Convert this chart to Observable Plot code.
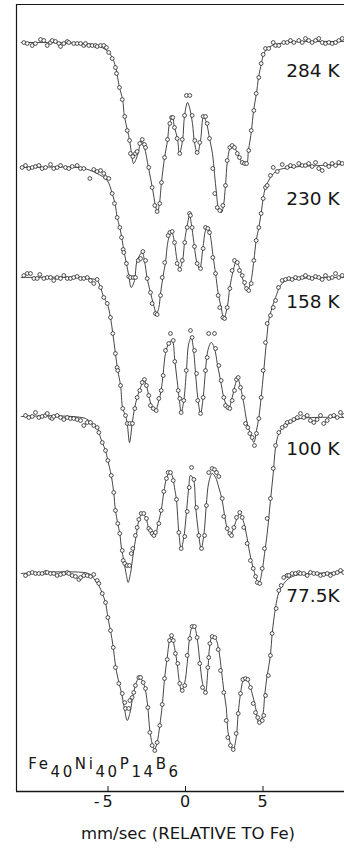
<!DOCTYPE html>
<html><head><meta charset="utf-8">
<script src="https://cdn.jsdelivr.net/npm/d3@7"></script>
<script src="https://cdn.jsdelivr.net/npm/@observablehq/plot@0.6"></script>
<style>
html,body{margin:0;padding:0;background:#fff;}
#chart svg{display:block;}
</style>
</head><body><div id="chart"></div>
<script>
// ---- data (velocity mm/s, absorption depth below each spectrum's baseline, arbitrary units) ----
const temperatures = ["284 K", "230 K", "158 K", "100 K", "77.5K"];
const baselines = [749, 626, 514, 374, 219];
const tickValues = [-5, 0, 5];
const axisLabel = "mm/sec (RELATIVE TO Fe)";
const formulaParts = [["Fe", false], ["40", true], ["Ni", false], ["40", true], ["P", false], ["14", true], ["B", false], ["6", true]];

const curve284 = [[-10.6,0],[-6.5,1],[-5.7,3],[-5.0,9],[-4.7,16],[-4.5,25],[-4.26,45],[-4.06,57],[-3.94,74],[-3.74,88],[-3.61,98],[-3.48,111],[-3.35,121],[-3.10,113],[-2.84,98],[-2.65,105],[-2.39,125],[-2.13,146],[-1.94,163],[-1.81,170],[-1.68,161],[-1.55,140],[-1.35,115],[-1.16,98],[-1.03,81],[-0.84,75],[-0.71,85],[-0.52,96],[-0.39,111],[-0.19,98],[-0.06,73],[0.13,60],[0.26,65],[0.45,81],[0.58,100],[0.77,111],[0.97,98],[1.16,74],[1.35,80],[1.55,96],[1.74,111],[1.87,131],[2.0,151],[2.13,166],[2.32,170],[2.45,163],[2.58,143],[2.71,118],[2.90,105],[3.10,103],[3.35,111],[3.68,120],[3.94,121],[4.06,108],[4.26,88],[4.39,68],[4.58,51],[4.71,35],[4.90,21],[5.03,12],[5.29,6],[5.61,3],[6.5,0],[10.26,-1]];
const points284 = [[-10.43,0],[-10.21,1],[-9.89,3],[-9.68,1],[-9.35,-3],[-9.14,-2],[-8.92,3],[-8.71,0],[-8.60,-2],[-8.39,-1],[-8.17,1],[-8.06,4],[-7.85,1],[-7.63,-1],[-7.53,0],[-7.21,1],[-6.99,1],[-6.77,1],[-6.56,3],[-6.45,1],[-6.24,3],[-6.02,3],[-5.81,3],[-5.70,4],[-5.48,3],[-5.27,3],[-5.10,5],[-4.95,10],[-4.73,16],[-4.52,25],[-4.45,31],[-4.26,45],[-4.08,57],[-3.92,74],[-3.76,88],[-3.61,98],[-3.55,111],[-3.40,114],[-3.23,111],[-3.12,109],[-2.95,101],[-2.79,97],[-2.65,102],[-2.58,105],[-2.37,125],[-2.15,145],[-1.98,163],[-1.83,169],[-1.66,161],[-1.55,140],[-1.35,115],[-1.16,97],[-1.01,81],[-0.90,75],[-0.82,75],[-0.71,85],[-0.54,96],[-0.37,111],[-0.21,97],[-0.06,73],[0.06,53],[0.28,53],[0.43,73],[0.60,98],[0.75,110],[0.92,100],[1.14,74],[1.29,74],[1.40,81],[1.55,96],[1.76,126],[1.89,151],[2.05,165],[2.21,168],[2.41,163],[2.58,143],[2.69,118],[2.86,105],[3.01,103],[3.16,105],[3.34,111],[3.48,115],[3.66,120],[3.81,121],[3.94,121],[4.08,108],[4.24,88],[4.41,68],[4.56,51],[4.73,35],[4.88,21],[5.01,12],[5.16,6],[5.37,6],[5.66,0],[5.81,3],[6.02,3],[6.34,0],[6.56,0],[6.77,-2],[6.99,0],[7.31,-2],[7.53,0],[7.74,-4],[7.95,-2],[8.17,0],[8.39,-2],[8.60,-4],[8.82,0],[9.03,1],[9.25,0],[9.46,1],[9.68,0],[9.89,-2],[10.11,-4]];

const curve230 = [[-10.6,2],[-7.0,2],[-6.3,4],[-5.70,8],[-5.05,15],[-4.73,28],[-4.52,40],[-4.41,52],[-4.24,62],[-4.08,75],[-3.98,85],[-3.81,98],[-3.66,110],[-3.50,122],[-3.29,115],[-3.12,95],[-2.79,87],[-2.65,95],[-2.47,113],[-2.26,127],[-2.08,138],[-1.87,148],[-1.72,142],[-1.61,128],[-1.44,110],[-1.29,97],[-1.12,75],[-0.90,66],[-0.71,77],[-0.54,95],[-0.37,103],[-0.19,95],[-0.05,75],[0.11,60],[0.26,50],[0.41,62],[0.58,82],[0.75,98],[0.92,103],[1.12,83],[1.29,65],[1.40,62],[1.57,68],[1.79,92],[1.94,108],[2.11,128],[2.30,142],[2.47,153],[2.69,142],[2.86,122],[3.08,105],[3.27,96],[3.48,102],[3.72,115],[3.98,125],[4.19,118],[4.41,95],[4.56,75],[4.73,62],[4.88,48],[5.01,33],[5.16,22],[5.48,12],[5.92,5],[6.77,2],[8.7,0],[10.26,-1]];
const points230 = [[-10.54,2],[-10.32,0],[-10.11,3],[-9.89,2],[-9.68,1],[-9.46,0],[-9.25,3],[-9.03,2],[-8.71,-1],[-8.50,3],[-8.28,2],[-8.06,0],[-7.74,2],[-7.53,3],[-7.31,1],[-6.99,0],[-6.77,3],[-6.56,3],[-6.17,13],[-5.92,4],[-5.70,6],[-5.48,5],[-5.27,8],[-5.16,12],[-4.95,13],[-4.73,28],[-4.58,38],[-4.41,52],[-4.24,62],[-4.13,72],[-4.02,84],[-3.98,87],[-3.81,98],[-3.66,111],[-3.55,112],[-3.37,112],[-3.23,112],[-3.05,95],[-2.90,93],[-2.75,86],[-2.58,95],[-2.47,113],[-2.26,127],[-2.15,138],[-1.94,148],[-1.83,149],[-1.61,130],[-1.50,112],[-1.34,97],[-1.12,70],[-1.01,67],[-0.86,66],[-0.71,77],[-0.54,98],[-0.37,104],[-0.21,95],[-0.05,77],[0.11,62],[0.26,48],[0.32,50],[0.43,62],[0.58,81],[0.75,98],[0.97,103],[1.14,83],[1.29,62],[1.44,63],[1.55,67],[1.76,92],[1.94,108],[2.11,130],[2.21,142],[2.41,152],[2.52,153],[2.69,142],[2.86,123],[3.01,105],[3.16,95],[3.34,97],[3.48,105],[3.66,110],[3.81,117],[3.94,123],[4.08,125],[4.24,118],[4.41,95],[4.56,75],[4.73,62],[4.88,48],[5.01,33],[5.16,22],[5.27,20],[5.48,10],[5.66,2],[5.92,6],[6.24,-1],[6.56,2],[6.77,0],[6.99,1],[7.31,-2],[7.53,0],[7.74,0],[7.95,-2],[8.17,1],[8.39,-3],[8.60,3],[8.82,5],[9.03,-1],[9.25,1],[9.46,-2],[9.68,0],[9.89,-3],[10.11,-2]];

const curve158 = [[-10.6,0],[-6.6,0],[-6.13,1],[-5.70,3],[-5.48,10],[-5.27,20],[-5.05,26],[-4.84,40],[-4.69,56],[-4.52,76],[-4.37,93],[-4.19,108],[-4.05,131],[-3.87,138],[-3.76,146],[-3.61,165],[-3.44,146],[-3.29,131],[-3.12,120],[-2.90,110],[-2.69,102],[-2.52,108],[-2.37,118],[-2.15,130],[-1.94,133],[-1.72,123],[-1.57,113],[-1.44,96],[-1.29,76],[-1.08,66],[-0.86,63],[-0.69,83],[-0.54,103],[-0.39,123],[-0.28,135],[-0.11,123],[0.06,93],[0.21,66],[0.37,60],[0.50,70],[0.65,96],[0.79,120],[0.97,136],[1.14,120],[1.29,93],[1.44,73],[1.66,65],[1.87,71],[2.05,86],[2.26,103],[2.47,120],[2.65,128],[2.79,131],[3.01,120],[3.23,106],[3.37,101],[3.55,110],[3.76,126],[3.98,146],[4.19,156],[4.41,165],[4.58,153],[4.73,140],[4.88,120],[5.05,93],[5.23,63],[5.37,43],[5.59,30],[5.81,20],[6.13,8],[6.5,3],[7.4,1],[10.26,0]];
const points158 = [[-10.43,-2],[-10.21,-4],[-10.0,-4],[-9.78,1],[-9.57,1],[-9.40,-3],[-9.14,1],[-8.92,0],[-8.71,0],[-8.50,3],[-8.28,0],[-8.06,1],[-7.85,-2],[-7.63,1],[-7.42,1],[-7.21,0],[-6.99,-1],[-6.77,1],[-6.56,1],[-6.34,0],[-6.13,3],[-5.92,6],[-5.70,2],[-5.48,10],[-5.27,20],[-5.05,26],[-4.84,40],[-4.69,56],[-4.52,76],[-4.41,90],[-4.37,93],[-4.19,108],[-4.05,131],[-3.87,138],[-3.76,146],[-3.59,146],[-3.42,146],[-3.27,131],[-3.12,120],[-2.95,113],[-2.79,105],[-2.65,102],[-2.52,108],[-2.37,118],[-2.26,128],[-2.08,131],[-1.89,133],[-1.72,121],[-1.57,113],[-1.44,98],[-1.29,73],[-1.08,66],[-0.97,56],[-0.79,63],[-0.69,84],[-0.47,113],[-0.37,121],[-0.28,135],[-0.11,123],[0.05,93],[0.32,53],[0.43,60],[0.58,73],[0.71,96],[0.79,123],[0.97,136],[1.14,120],[1.29,93],[1.40,80],[1.50,56],[1.87,56],[1.94,71],[2.15,88],[2.30,103],[2.47,120],[2.58,128],[2.73,130],[2.86,131],[3.01,123],[3.16,113],[3.29,102],[3.40,100],[3.55,110],[3.72,120],[3.87,146],[4.02,150],[4.15,156],[4.30,160],[4.45,168],[4.58,156],[4.73,141],[4.88,120],[5.01,93],[5.16,65],[5.27,46],[5.48,38],[5.66,30],[5.81,23],[6.0,10],[6.24,3],[6.45,2],[6.67,1],[6.88,2],[7.10,0],[7.31,1],[7.53,0],[7.74,-2],[7.96,0],[8.17,1],[8.39,-1],[8.60,0],[8.82,2],[9.03,-2],[9.25,1],[9.46,0],[9.68,-4],[9.89,0],[10.11,-2]];

const curve100 = [[-10.6,-1],[-6.45,1],[-5.92,8],[-5.70,10],[-5.59,15],[-5.37,25],[-5.16,33],[-5.01,43],[-4.79,58],[-4.63,75],[-4.52,93],[-4.37,106],[-4.24,116],[-4.13,131],[-3.98,143],[-3.81,158],[-3.70,165],[-3.55,156],[-3.37,136],[-3.18,118],[-3.01,103],[-2.79,96],[-2.54,101],[-2.37,111],[-2.15,116],[-1.98,118],[-1.76,106],[-1.57,93],[-1.40,75],[-1.23,61],[-1.03,55],[-0.86,58],[-0.71,70],[-0.58,83],[-0.43,115],[-0.28,131],[-0.11,120],[0.06,95],[0.21,70],[0.32,58],[0.50,61],[0.66,90],[0.82,113],[1.01,131],[1.18,118],[1.34,88],[1.50,65],[1.72,56],[1.94,60],[2.15,70],[2.37,83],[2.54,100],[2.73,113],[2.90,118],[3.12,110],[3.34,100],[3.50,96],[3.72,103],[3.92,116],[4.15,136],[4.41,153],[4.73,166],[4.95,153],[5.10,136],[5.27,116],[5.48,83],[5.66,56],[5.81,30],[6.02,16],[6.30,10],[6.77,5],[7.42,1],[10.26,0]];
const points100 = [[-10.32,-2],[-10.11,0],[-9.89,-1],[-9.68,-5],[-9.46,0],[-9.25,-1],[-9.03,-2],[-8.92,-4],[-8.71,0],[-8.60,1],[-8.50,-1],[-8.28,-2],[-8.06,0],[-7.85,2],[-7.63,0],[-7.42,1],[-7.21,1],[-6.99,2],[-6.77,3],[-6.56,8],[-6.34,5],[-6.13,5],[-5.92,8],[-5.70,10],[-5.59,15],[-5.37,25],[-5.16,33],[-5.01,43],[-4.79,58],[-4.63,75],[-4.52,93],[-4.37,106],[-4.24,116],[-4.08,133],[-4.02,143],[-3.92,146],[-3.76,148],[-3.61,148],[-3.50,136],[-3.40,131],[-3.23,118],[-3.12,110],[-3.01,102],[-2.86,96],[-2.69,96],[-2.52,101],[-2.37,111],[-2.26,113],[-2.15,116],[-2.04,118],[-1.94,115],[-1.72,106],[-1.57,93],[-1.40,74],[-1.23,61],[-1.12,55],[-0.97,55],[-0.79,63],[-0.58,82],[-0.43,115],[-0.28,131],[-0.05,119],[0.11,94],[0.24,70],[0.39,50],[0.54,62],[0.71,90],[0.86,118],[1.03,131],[1.23,118],[1.35,88],[1.50,55],[1.72,51],[1.87,52],[2.0,55],[2.15,59],[2.37,81],[2.47,99],[2.69,111],[2.86,116],[2.97,118],[3.12,110],[3.29,100],[3.50,95],[3.66,100],[3.76,110],[3.98,126],[4.19,143],[4.37,151],[4.52,159],[4.63,165],[4.79,166],[4.95,151],[5.10,131],[5.27,101],[5.48,81],[5.66,51],[5.81,28],[6.02,15],[6.24,10],[6.45,8],[6.56,5],[6.77,4],[6.99,2],[7.21,0],[7.42,-4],[7.63,0],[7.85,-2],[8.06,3],[8.28,5],[8.49,2],[8.71,-2],[8.92,6],[9.14,3],[9.35,-1],[9.57,-2],[9.79,0],[10.0,-5],[10.21,-2]];

const curve77 = [[-10.6,1],[-6.26,1],[-5.92,6],[-5.59,13],[-5.37,21],[-5.16,30],[-5.01,45],[-4.84,58],[-4.66,75],[-4.50,95],[-4.28,111],[-4.12,121],[-3.94,136],[-3.76,148],[-3.59,141],[-3.44,128],[-3.27,115],[-3.12,108],[-2.95,105],[-2.73,110],[-2.58,118],[-2.43,135],[-2.30,158],[-2.15,171],[-2.0,177],[-1.83,170],[-1.66,153],[-1.50,133],[-1.35,106],[-1.18,85],[-1.03,68],[-0.90,63],[-0.71,75],[-0.54,91],[-0.39,110],[-0.26,118],[-0.06,111],[0.11,91],[0.26,66],[0.43,55],[0.58,55],[0.75,66],[0.92,88],[1.10,111],[1.29,120],[1.44,98],[1.57,73],[1.72,64],[1.94,66],[2.15,78],[2.32,98],[2.47,118],[2.63,135],[2.73,158],[2.90,171],[3.08,177],[3.27,165],[3.40,141],[3.55,121],[3.72,108],[3.87,106],[4.08,110],[4.30,121],[4.52,135],[4.73,150],[4.95,145],[5.12,121],[5.27,103],[5.48,83],[5.59,61],[5.81,35],[6.02,20],[6.34,11],[6.77,5],[7.42,2],[10.26,0]];
const points77 = [[-10.32,3],[-10.11,1],[-9.89,0],[-9.68,1],[-9.46,1],[-9.25,1],[-9.03,0],[-8.92,0],[-8.71,1],[-8.50,1],[-8.28,3],[-8.06,2],[-7.85,1],[-7.63,0],[-7.53,1],[-7.31,3],[-7.10,4],[-6.88,7],[-6.77,5],[-6.56,3],[-6.34,3],[-6.13,4],[-5.92,2],[-5.70,8],[-5.59,11],[-5.37,21],[-5.16,30],[-5.01,45],[-4.84,58],[-4.66,75],[-4.52,95],[-4.30,111],[-4.08,121],[-3.92,130],[-3.87,136],[-3.66,136],[-3.59,128],[-3.44,125],[-3.34,120],[-3.23,113],[-3.01,105],[-2.90,105],[-2.73,110],[-2.58,116],[-2.43,135],[-2.30,160],[-2.15,173],[-1.98,178],[-1.83,170],[-1.66,153],[-1.50,132],[-1.35,106],[-1.18,87],[-1.03,68],[-0.90,63],[-0.79,68],[-0.65,81],[-0.50,91],[-0.37,111],[-0.21,118],[-0.05,113],[0.11,83],[0.28,66],[0.43,54],[0.58,54],[0.75,65],[0.92,91],[1.10,115],[1.29,120],[1.44,95],[1.50,85],[1.57,71],[1.72,64],[1.89,65],[2.11,77],[2.26,98],[2.47,120],[2.63,148],[2.73,165],[2.90,173],[3.08,177],[3.27,161],[3.40,141],[3.55,121],[3.70,107],[3.87,106],[4.02,107],[4.19,115],[4.37,131],[4.52,140],[4.66,145],[4.77,150],[4.95,148],[5.05,143],[5.16,123],[5.34,103],[5.48,83],[5.59,61],[5.85,36],[6.02,18],[6.17,13],[6.34,5],[6.56,3],[6.67,3],[6.88,1],[7.10,1],[7.31,0],[7.42,1],[7.63,1],[7.85,3],[8.06,0],[8.28,1],[8.49,1],[8.71,3],[8.92,2],[9.14,1],[9.35,3],[9.57,1],[9.79,0],[10.0,-2],[10.21,0]];

const curves = [curve284, curve230, curve158, curve100, curve77];
const points = [points284, points230, points158, points100, points77];

// ---- layout (annotation placement, not data) ----
const xDomain = [-10.903, 10.258];
const yDomain = [0, 787];
const labelV = 9.94;
const labelDepth = [29, 34, 25, 32, 24];
const formulaPos = {v: -10.11, y: 21.7};
const FONT = "DejaVu Sans";

const lineData = curves.flatMap((c, k) => c.map(([v, d]) => ({k, v, y: baselines[k] - d})));
const dotData = points.flatMap((p, k) => p.map(([v, d]) => ({k, v, y: baselines[k] - d})));
const labelData = temperatures.map((t, k) => ({t, v: labelV, y: baselines[k] - labelDepth[k]}));

const ink = "#161616";
const plot = Plot.plot({
  width: 344, height: 850,
  marginLeft: 16, marginRight: 0, marginTop: 4, marginBottom: 59,
  x: {domain: xDomain, axis: null},
  y: {domain: yDomain, axis: null},
  style: {fontFamily: FONT, background: "white", color: ink},
  marks: [
    Plot.ruleY([yDomain[1]], {stroke: ink, strokeWidth: 1.1}),
    Plot.ruleY([yDomain[0]], {stroke: ink, strokeWidth: 1.3}),
    Plot.ruleX([xDomain[0]], {stroke: ink, strokeWidth: 1.2}),
    Plot.ruleX(tickValues, {x: d => d, y1: 0, y2: 5, stroke: ink, strokeWidth: 1}),
    Plot.text(tickValues, {x: d => d, frameAnchor: "bottom", dy: 15.5, dx: 4.8, textAnchor: "end",
      text: d => d < 0 ? "-\u2009" + (-d) : String(d), fontSize: 16, fill: ink}),
    Plot.text([axisLabel], {frameAnchor: "bottom", text: d => d, dx: 7.5, dy: 47.5, fontSize: 16.5, fill: ink, ariaLabel: "axis-label"}),
    Plot.line(lineData, {x: "v", y: "y", z: "k", curve: "catmull-rom", stroke: ink, strokeWidth: 0.8}),
    Plot.dot(dotData, {x: "v", y: "y", r: 1.9, stroke: ink, strokeWidth: 0.75, fill: "white"}),
    Plot.text(labelData, {x: "v", y: "y", text: "t", textAnchor: "end", fontSize: 18.5, fill: ink, ariaLabel: "temp-label"})
  ]
});
document.getElementById("chart").appendChild(plot);

d3.select(plot).selectAll('g[aria-label="temp-label"] text').attr("letter-spacing", 0.6);
d3.select(plot).selectAll('g[aria-label="axis-label"] text').attr("letter-spacing", 0.8);

// chemical formula with full-size lowered subscripts
const sx = plot.scale("x"), sy = plot.scale("y");
const ft = d3.select(plot).append("text")
  .attr("x", sx.apply(formulaPos.v)).attr("y", sy.apply(formulaPos.y))
  .attr("text-anchor", "start")
  .attr("font-family", FONT).attr("font-size", 15).attr("letter-spacing", 2.6).attr("fill", ink);
let lowered = false;
formulaParts.forEach(([s, sub]) => {
  const dy = sub === lowered ? 0 : (sub ? 7.4 : -7.4);
  lowered = sub;
  ft.append("tspan").attr("dy", dy).text(s);
});
</script>
</body></html>
